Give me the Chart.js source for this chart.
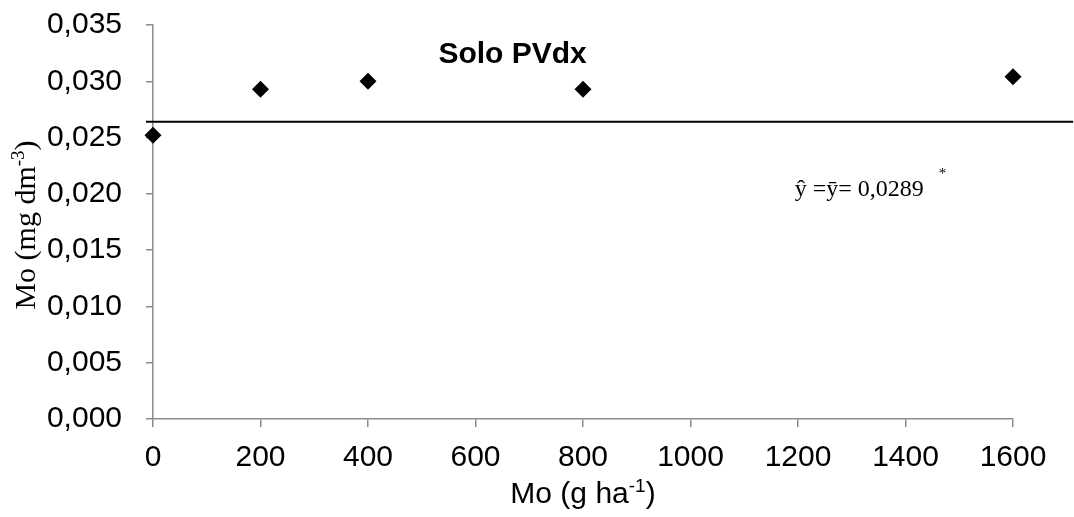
<!DOCTYPE html>
<html>
<head>
<meta charset="utf-8">
<script src="https://cdn.jsdelivr.net/npm/chart.js@4.4.1/dist/chart.umd.min.js"></script>
<style>
  html, body { margin: 0; padding: 0; background: #fff; }
  #wrap { width: 1074px; height: 517px; }
</style>
</head>
<body>
<div id="wrap"><canvas id="moChart" width="1074" height="517"></canvas></div>
<script>
// Mo doses (g/ha) and soil Mo (mg/dm3)
const doses = [0, 200, 400, 800, 1600];
const moValues = [0.0252, 0.0293, 0.0300, 0.0293, 0.0304];
// horizontal mean line as drawn (runs a bit past both axis ends)
const meanLineX = [-13, 1712];
const meanLineY = 0.0264;
const xTicks = { min: 0, max: 1600, step: 200 };
const yTicks = { min: 0, max: 0.035, step: 0.005 };

const axisGray = '#8c8c8c';
const sansFont = '"Liberation Sans", Arial, sans-serif';
const serifFont = '"Liberation Serif", "Times New Roman", serif';

// draw text with a superscript part: [base, sup, tail]
function supText(ctx, parts, size, font, x, y, align) {
  const [base, sup, tail] = parts;
  const supSize = Math.round(size * 0.62);
  ctx.font = `${size}px ${font}`;
  const w1 = ctx.measureText(base).width;
  const w3 = ctx.measureText(tail).width;
  ctx.font = `${supSize}px ${font}`;
  const w2 = ctx.measureText(sup).width;
  let start = x;
  if (align === 'center') start = x - (w1 + w2 + w3) / 2;
  ctx.textAlign = 'left';
  ctx.textBaseline = 'alphabetic';
  ctx.font = `${size}px ${font}`;
  ctx.fillText(base, start, y);
  ctx.font = `${supSize}px ${font}`;
  ctx.fillText(sup, start + w1, y - size * 0.38);
  ctx.font = `${size}px ${font}`;
  ctx.fillText(tail, start + w1 + w2, y);
}

const textPlugin = {
  id: 'texts',
  afterDraw(chart) {
    const ctx = chart.ctx;
    const area = chart.chartArea;
    const xs = chart.scales.x, ys = chart.scales.y;
    ctx.save();
    ctx.fillStyle = '#000';

    // y axis title
    ctx.save();
    ctx.translate(35, (area.top + area.bottom) / 2 + 3);
    ctx.rotate(-Math.PI / 2);
    supText(ctx, ['Mo (mg dm', '-3', ')'], 30, serifFont, 0, 0, 'center');
    ctx.restore();

    // x axis title
    supText(ctx, ['Mo (g ha', '-1', ')'], 30, sansFont, (area.left + area.right) / 2, 503, 'center');

    // panel title
    ctx.font = `bold 30px ${sansFont}`;
    ctx.textAlign = 'center';
    ctx.textBaseline = 'alphabetic';
    ctx.fillText('Solo PVdx', xs.getPixelForValue(669), ys.getPixelForValue(0.0316));

    // equation
    ctx.font = `24px ${serifFont}`;
    ctx.textAlign = 'left';
    ctx.fillText('ŷ =ȳ= 0,0289', xs.getPixelForValue(1194), ys.getPixelForValue(0.0198));
    ctx.font = `15px ${serifFont}`;
    ctx.fillText('*', xs.getPixelForValue(1462), ys.getPixelForValue(0.0214));
    ctx.restore();
  }
};

const ctx = document.getElementById('moChart').getContext('2d');
const moChart = new Chart(ctx, {
  type: 'scatter',
  data: {
    datasets: [{
      label: 'Mo',
      data: doses.map((d, i) => ({ x: d, y: moValues[i] })),
      pointStyle: 'rectRot',
      pointRadius: 8.5,
      pointHoverRadius: 8.5,
      backgroundColor: '#000',
      borderColor: '#000',
      borderWidth: 0,
      showLine: false,
      clip: false
    }, {
      label: 'mean',
      data: meanLineX.map(x => ({ x: x, y: meanLineY })),
      showLine: true,
      borderColor: '#000',
      borderWidth: 2,
      pointRadius: 0,
      clip: false
    }]
  },
  options: {
    responsive: false,
    devicePixelRatio: 1,
    animation: false,
    layout: { padding: { top: 25, right: 61, left: 0, bottom: 0 } },
    plugins: {
      legend: { display: false },
      tooltip: { enabled: false }
    },
    scales: {
      x: {
        type: 'linear',
        min: xTicks.min,
        max: xTicks.max,
        afterFit(scale) {
          scale.height = 98;
          scale.paddingLeft = 0;
          scale.paddingRight = 0;
        },
        border: { color: axisGray, width: 1.5 },
        grid: { drawOnChartArea: false, color: axisGray, lineWidth: 1.5, tickLength: 8 },
        ticks: {
          stepSize: xTicks.step,
          color: '#000',
          padding: 13,
          font: { family: sansFont, size: 30 },
          callback: v => String(v)
        }
      },
      y: {
        type: 'linear',
        min: yTicks.min,
        max: yTicks.max,
        afterFit(scale) {
          scale.width = 153;
          scale.paddingTop = 0;
          scale.paddingBottom = 0;
        },
        border: { color: axisGray, width: 1.5 },
        grid: { drawOnChartArea: false, color: axisGray, lineWidth: 1.5, tickLength: 7 },
        ticks: {
          stepSize: yTicks.step,
          color: '#000',
          padding: 24,
          font: { family: sansFont, size: 30 },
          callback: v => v.toFixed(3).replace('.', ',')
        }
      }
    }
  },
  plugins: [textPlugin]
});
</script>
</body>
</html>
